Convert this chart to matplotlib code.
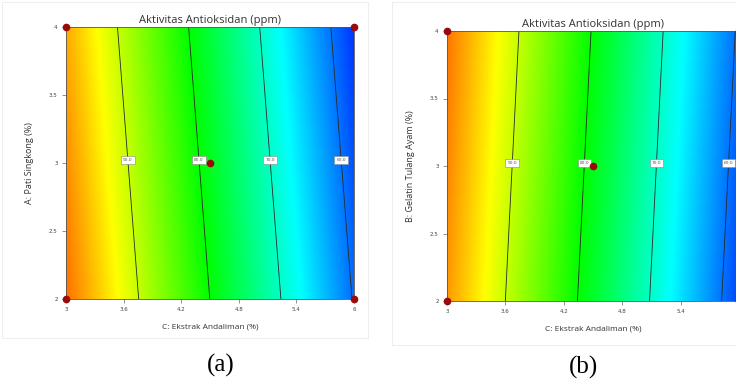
import numpy as np
import matplotlib
matplotlib.use("Agg")
import matplotlib.pyplot as plt
from matplotlib.colors import LinearSegmentedColormap
from matplotlib.patches import Rectangle

# faktor dan tick
c_ticks = [3, 3.6, 4.2, 4.8, 5.4, 6]
y_ticks = [2, 2.5, 3, 3.5, 4]
c_range = (3, 6)
y_range = (2, 4)

# garis kontur yang diberi label
levels = [60, 70, 80, 90]

# persamaan model (intersep, koef. C, koef. faktor sumbu y)
coef_a = (143.7, -13.5, -1.49)
coef_b = (136.7, -13.5, 0.945)

# titik desain
pts_a_c = [3, 6, 3, 6, 4.5]
pts_a_y = [4, 4, 2, 2, 3]
pts_b_c = [3, 3, 6, 6, 4.5]
pts_b_y = [4, 2, 4, 2, 3]

title = "Aktivitas Antioksidan (ppm)"
xlabel = "C: Ekstrak Andaliman (%)"
ylabel_a = "A: Pati Singkong (%)"
ylabel_b = "B: Gelatin Tulang Ayam (%)"

cmap = LinearSegmentedColormap.from_list(
    "de", ["#0000ff", "#00ffff", "#00ff00", "#ffff00", "#ff0000"])
vmin, vmax = 54, 106

fig = plt.figure(figsize=(7.36, 3.8), dpi=100)

# bingkai tipis screenshot
fig.patches.append(Rectangle((2 / 736, 1 - 338 / 380), 366 / 736, 336 / 380,
                             transform=fig.transFigure, fill=False,
                             ec="#eeeeee", lw=0.8))
fig.patches.append(Rectangle((392 / 736, 1 - 345 / 380), 350 / 736, 343 / 380,
                             transform=fig.transFigure, fill=False,
                             ec="#eeeeee", lw=0.8))


def panel(rect, coef, pts_c, pts_y, ylabel, label_y, last_label=True):
    ax = fig.add_axes(rect)
    cc = np.linspace(c_range[0], c_range[1], 300)
    yy = np.linspace(y_range[0], y_range[1], 200)
    C, Y = np.meshgrid(cc, yy)
    Z = coef[0] + coef[1] * C + coef[2] * Y
    ax.imshow(Z, extent=(c_range[0], c_range[1], y_range[0], y_range[1]),
              origin="lower", aspect="auto", cmap=cmap, vmin=vmin, vmax=vmax,
              interpolation="bilinear")
    cs = ax.contour(C, Y, Z, levels=levels, colors="#2a2a2a", linewidths=0.6)
    manual = [((lv - coef[0] - coef[2] * label_y) / coef[1], label_y) for lv in levels]
    txts = ax.clabel(cs, fmt="%.1f", fontsize=3.2, manual=manual, inline=False)
    for t in txts:
        t.set_rotation(0)
        t.set_color("#555555")
        t.set_bbox(dict(boxstyle="square,pad=0.45", fc="white", ec="#888888", lw=0.4))
    ax.plot(pts_c, pts_y, "o", color="#9a0a0a", ms=4.5, clip_on=False, zorder=5)
    ax.set_xlim(*c_range)
    ax.set_ylim(*y_range)
    ax.set_xticks(c_ticks)
    labs = [f"{v:g}" for v in c_ticks]
    if not last_label:
        labs[-1] = ""
    ax.set_xticklabels(labs)
    ax.set_yticks(y_ticks)
    ax.set_yticklabels([f"{v:g}" for v in y_ticks])
    ax.tick_params(direction="out", length=3, width=0.5, colors="#666666",
                   labelsize=4, labelcolor="#444444", pad=3)
    for s in ax.spines.values():
        s.set_linewidth(0.6)
        s.set_color("#555555")
    ax.set_title(title, fontsize=8, pad=3, color="#333333", family="Open Sans")
    ax.set_xlabel(xlabel, fontsize=6, labelpad=8, color="#333333", family="Open Sans")
    ax.set_ylabel(ylabel, fontsize=6.5, labelpad=11, color="#333333", family="Open Sans")
    return ax


panel([66 / 736, 1 - 299 / 380, 288 / 736, 272 / 380], coef_a,
      pts_a_c, pts_a_y, ylabel_a, 3.02)
panel([447 / 736, 1 - 301 / 380, 292 / 736, 270 / 380], coef_b,
      pts_b_c, pts_b_y, ylabel_b, 3.02, last_label=False)

fig.text(221 / 736, 1 - 365 / 380, "(a)", fontsize=18, family="Liberation Serif",
         ha="center", va="center")
fig.text(583 / 736, 1 - 367 / 380, "(b)", fontsize=18, family="Liberation Serif",
         ha="center", va="center")

fig.savefig("out.png", dpi=100)
